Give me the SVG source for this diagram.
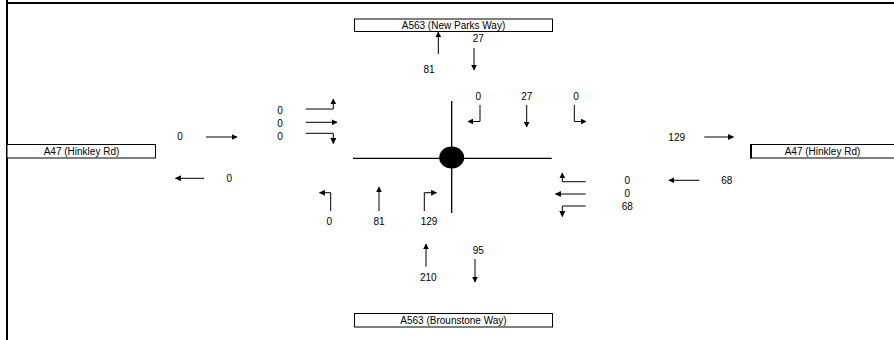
<svg xmlns="http://www.w3.org/2000/svg" width="894" height="340" viewBox="0 0 894 340">
<style>
text{font-family:"Liberation Sans",Arial,sans-serif;font-size:10px;fill:#000;text-anchor:middle}
.box{fill:#fff;stroke:#000;stroke-width:1}
.arr{fill:none;stroke:#000;stroke-width:1;marker-end:url(#ah)}
.road{fill:none;stroke:#000;stroke-width:1.3}
.frame{fill:none;stroke:#000;stroke-width:2}
</style>
<defs>
<marker id="ah" viewBox="0 0 10 10" refX="9" refY="5" markerWidth="6" markerHeight="6" markerUnits="userSpaceOnUse" orient="auto">
<path d="M0,0 L10,5 L0,10 z" fill="#000"/>
</marker>
</defs>
<rect width="894" height="340" fill="#fff"/>
<g id="frame">
<line class="frame" x1="7" y1="0" x2="7" y2="340"/>
<line class="frame" x1="6" y1="3" x2="894" y2="3"/>
</g>
<g id="road-north">
<rect class="box" x="354.5" y="19" width="198" height="12.5"/>
<text x="453.5" y="28.5">A563 (New Parks Way)</text>
</g>
<g id="road-south">
<rect class="box" x="354.5" y="313.5" width="198" height="13.5"/>
<text x="453.5" y="323.8">A563 (Brounstone Way)</text>
</g>
<g id="road-west">
<rect class="box" x="7" y="144.5" width="148.5" height="13.5"/>
<text x="81.5" y="154.8">A47 (Hinkley Rd)</text>
</g>
<g id="road-east">
<rect class="box" x="751" y="144.5" width="150" height="13.5"/>
<line x1="751" y1="144" x2="751" y2="158.5" stroke="#000" stroke-width="2"/>
<text x="822.5" y="154.8">A47 (Hinkley Rd)</text>
</g>
<g id="junction">
<line class="road" x1="451.7" y1="101" x2="451.7" y2="213"/>
<line class="road" x1="353" y1="158.3" x2="551.7" y2="158.3"/>
<ellipse cx="451.7" cy="157.5" rx="12.5" ry="11" fill="#000"/>
</g>
<g id="connectors">
<path class="arr" d="M438.3,54 V32"/>
<path class="arr" d="M474,48 V70"/>
<path class="arr" d="M305.7,109 H333.3 V99"/>
<path class="arr" d="M305.7,122.3 H337"/>
<path class="arr" d="M305.7,133.3 H333.3 V143.5"/>
<path class="arr" d="M480,105 V121.5 H468"/>
<path class="arr" d="M526.7,105 V127"/>
<path class="arr" d="M574.3,105 V121.5 H586"/>
<path class="arr" d="M206,137 H237"/>
<path class="arr" d="M204,178.3 H175.5"/>
<path class="arr" d="M704.3,137 H733.5"/>
<path class="arr" d="M699.3,180.3 H669"/>
<path class="arr" d="M585.7,181.7 H562.3 V173"/>
<path class="arr" d="M585.7,194 H555.5"/>
<path class="arr" d="M585.7,206 H562.3 V216.5"/>
<path class="arr" d="M330.7,211 V192.7 H319.5"/>
<path class="arr" d="M379,211 V187"/>
<path class="arr" d="M424.3,211 V192.7 H436.5"/>
<path class="arr" d="M426,266.7 V244"/>
<path class="arr" d="M475,259 V282"/>
</g>
<g id="flows">
<text x="429" y="72.5">81</text>
<text x="478.3" y="42">27</text>
<text x="478.3" y="100.3">0</text>
<text x="526.7" y="100.3">27</text>
<text x="576" y="100.3">0</text>
<text x="280" y="113.6">0</text>
<text x="280" y="126.9">0</text>
<text x="280" y="140.3">0</text>
<text x="180" y="140.3">0</text>
<text x="229.3" y="181.7">0</text>
<text x="676.7" y="140.8">129</text>
<text x="627.3" y="183.9">0</text>
<text x="627.3" y="196.9">0</text>
<text x="627.3" y="210.3">68</text>
<text x="726.7" y="183.9">68</text>
<text x="329.3" y="224.6">0</text>
<text x="379" y="224.6">81</text>
<text x="429" y="224.6">129</text>
<text x="478.3" y="253.6">95</text>
<text x="428.3" y="281.3">210</text>
</g>
</svg>
